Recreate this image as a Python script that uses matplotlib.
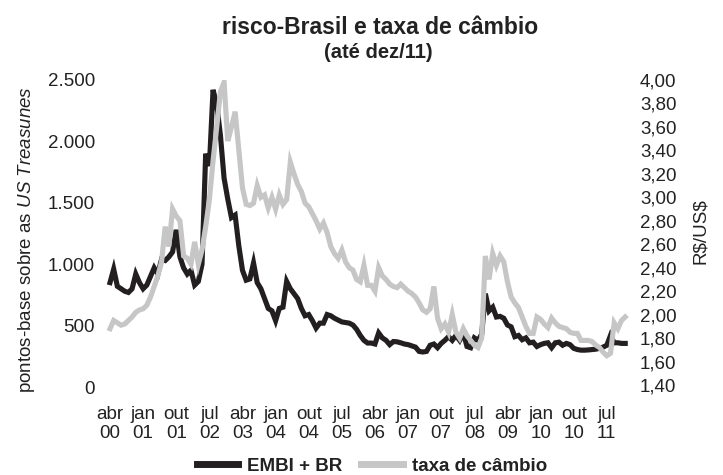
import matplotlib
matplotlib.use("Agg")
import matplotlib.pyplot as plt
from matplotlib.lines import Line2D

plt.rcParams['font.family'] = ['Liberation Sans', 'DejaVu Sans']
plt.rcParams['mathtext.fontset'] = 'custom'
plt.rcParams['mathtext.rm'] = 'Liberation Sans'
plt.rcParams['mathtext.it'] = 'Liberation Sans:italic'

# monthly series, abr/2000 .. dez/2011
meses = ['jan', 'fev', 'mar', 'abr', 'mai', 'jun',
         'jul', 'ago', 'set', 'out', 'nov', 'dez']
mes_inicial = 3      # abr
ano_inicial = 2000

# EMBI + BR (pontos-base)
embi = [850, 960, 820, 800, 780, 770, 800, 920, 850, 800,
        830, 900, 970, 920, 1040, 1030, 1060, 1100, 1280, 1060,
        970, 920, 950, 830, 860, 1000, 1900, 1800, 2420, 2300,
        2050, 1700, 1530, 1380, 1400, 1150, 950, 870, 880, 1010,
        850, 800, 720, 640, 620, 540, 640, 650, 860, 800,
        760, 720, 640, 580, 590, 540, 480, 520, 520, 590,
        580, 560, 545, 530, 525, 520, 505, 470, 420, 380,
        358, 358, 350, 440, 400, 380, 345, 370, 368, 360,
        350, 345, 335, 325, 290, 285, 290, 340, 350, 320,
        355, 380, 410, 380, 420, 380, 440, 330, 320, 400,
        380, 430, 760, 620, 650, 570, 575, 560, 505, 490,
        410, 420, 385, 400, 360, 365, 330, 345, 355, 360,
        320, 360, 365, 340, 355, 345, 315, 305, 300, 300,
        302, 305, 308, 315, 325, 340, 420, 360, 360, 355,
        355]

# taxa de cambio (R$/US$)
cambio = [1.88, 1.95, 1.93, 1.91, 1.92, 1.95, 1.98, 2.02, 2.04, 2.05,
          2.08, 2.15, 2.24, 2.33, 2.45, 2.75, 2.58, 2.90, 2.84, 2.80,
          2.50, 2.48, 2.43, 2.62, 2.43, 2.55, 2.75, 2.98, 3.31, 3.60,
          3.90, 3.98, 3.48, 3.60, 3.73, 3.40, 3.08, 2.94, 2.93, 2.95,
          3.10, 3.00, 3.02, 2.91, 3.00, 2.90, 3.02, 2.94, 2.98, 3.30,
          3.20, 3.11, 3.05, 2.95, 2.92, 2.86, 2.80, 2.73, 2.78, 2.70,
          2.58, 2.52, 2.48, 2.55, 2.45, 2.40, 2.38, 2.30, 2.28, 2.42,
          2.25, 2.25, 2.20, 2.40, 2.33, 2.30, 2.26, 2.24, 2.23, 2.26,
          2.23, 2.20, 2.18, 2.15, 2.10, 2.04, 2.02, 2.05, 2.24, 1.97,
          1.88, 1.92, 1.85, 2.00, 1.85, 1.80, 1.88, 1.82, 1.78, 1.74,
          1.72, 1.80, 2.50, 2.30, 2.52, 2.42, 2.50, 2.45, 2.28, 2.15,
          2.10, 2.06, 1.98, 1.90, 1.84, 1.84, 1.98, 1.96, 1.92, 1.89,
          1.97, 1.93, 1.90, 1.89, 1.88, 1.85, 1.84, 1.84, 1.78, 1.78,
          1.78, 1.77, 1.74, 1.72, 1.68, 1.65, 1.67, 1.93, 1.88, 1.95,
          1.98]

esq_ticks = [0, 500, 1000, 1500, 2000, 2500]
esq_labels = ['0', '500', '1.000', '1.500', '2.000', '2.500']
dir_ticks = [1.4, 1.6, 1.8, 2.0, 2.2, 2.4, 2.6, 2.8, 3.0, 3.2, 3.4, 3.6, 3.8, 4.0]
dir_labels = [f'{v:.2f}'.replace('.', ',') for v in dir_ticks]

x = list(range(len(embi)))
x_ticks = list(range(0, len(embi), 9))
x_labels = []
for m in x_ticks:
    k = mes_inicial + m
    x_labels.append(f'{meses[k % 12]}\n{(ano_inicial + k // 12) % 100:02d}')

preto = '#231f20'
cinza = '#c6c6c6'

fig = plt.figure(figsize=(7.23, 4.75), dpi=100)
ax = fig.add_axes([106 / 723, 1 - 387 / 475, 523 / 723, 307 / 475])
ax2 = ax.twinx()

ax.plot(x, embi, color=preto, lw=3.7, zorder=2, solid_joinstyle='miter')
ax2.plot(x, cambio, color=cinza, lw=3.7, zorder=3, solid_joinstyle='miter')

ax.set_xlim(-1.09, 141.03)
ax.set_ylim(0, 2500)
ax2.set_ylim(1.383, 3.983)

ax.set_xticks(x_ticks)
ax.set_xticklabels(x_labels, fontsize=13.5, linespacing=1.1)
ax.set_yticks(esq_ticks)
ax.set_yticklabels(esq_labels, fontsize=13.5)
ax2.set_yticks(dir_ticks)
ax2.set_yticklabels(dir_labels, fontsize=13.5)

for a in (ax, ax2):
    for s in a.spines.values():
        s.set_visible(False)
    a.tick_params(length=0, pad=8, colors='#222222')
ax.tick_params(axis='x', pad=14)

fig.text(380 / 723, 1 - 28 / 475, 'risco-Brasil e taxa de câmbio',
         ha='center', va='center', fontsize=16.5, fontweight='bold', color='#222222')
fig.text(378 / 723, 1 - 52 / 475, '(até dez/11)',
         ha='center', va='center', fontsize=14.5, fontweight='bold', color='#222222')

fig.text(27 / 723, 1 - 240 / 475, r'pontos-base sobre as $\mathit{US\ Treasunes}$',
         rotation=90, ha='center', va='center', fontsize=13.5, color='#222222')
fig.text(701 / 723, 1 - 231 / 475, r'R\$/US\$',
         rotation=90, ha='center', va='center', fontsize=13.5, color='#222222')

handles = [Line2D([], [], color=preto, lw=5),
           Line2D([], [], color=cinza, lw=5)]
fig.legend(handles, ['EMBI + BR', 'taxa de câmbio'], loc='center',
           bbox_to_anchor=(372 / 723, 1 - 466 / 475), ncol=2, frameon=False,
           prop={'weight': 'bold', 'size': 13.5}, handlelength=2.2,
           handletextpad=0.5, columnspacing=1.0, labelcolor='#222222')

fig.savefig('out.png', dpi=100)
